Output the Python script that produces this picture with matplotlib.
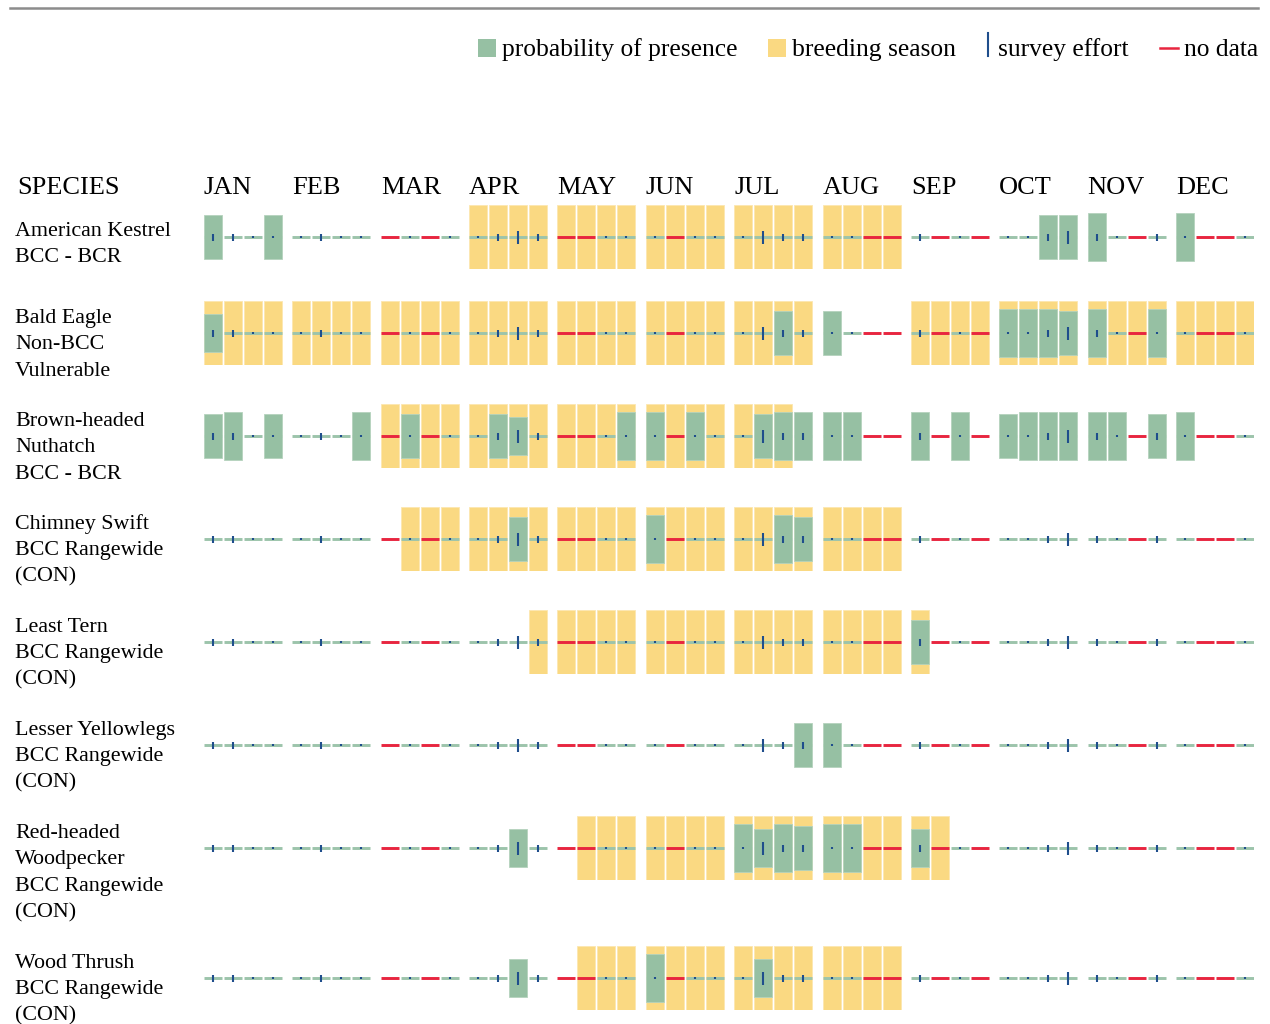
import matplotlib
matplotlib.use("Agg")
import matplotlib.pyplot as plt

# ---- data -----------------------------------------------------------------
months = ["JAN", "FEB", "MAR", "APR", "MAY", "JUN",
          "JUL", "AUG", "SEP", "OCT", "NOV", "DEC"]

species_labels = [
    ["American Kestrel", "BCC - BCR"],
    ["Bald Eagle", "Non-BCC", "Vulnerable"],
    ["Brown-headed", "Nuthatch", "BCC - BCR"],
    ["Chimney Swift", "BCC Rangewide", "(CON)"],
    ["Least Tern", "BCC Rangewide", "(CON)"],
    ["Lesser Yellowlegs", "BCC Rangewide", "(CON)"],
    ["Red-headed", "Woodpecker", "BCC Rangewide", "(CON)"],
    ["Wood Thrush", "BCC Rangewide", "(CON)"],
]

# probability of presence, 0-10, four weeks per month
presence_kestrel = [9, 0, 0, 9, 0, 0, 0, 0, 0, 0, 0, 0, 0, 0, 0, 0, 0, 0, 0, 0, 0, 0, 0, 0,
                    0, 0, 0, 0, 0, 0, 0, 0, 0, 0, 0, 0, 0, 0, 9, 9, 10, 0, 0, 0, 10, 0, 0, 0]
presence_eagle = [8, 0, 0, 0, 0, 0, 0, 0, 0, 0, 0, 0, 0, 0, 0, 0, 0, 0, 0, 0, 0, 0, 0, 0,
                  0, 0, 9, 0, 9, 0, 0, 0, 0, 0, 0, 0, 10, 10, 10, 9, 10, 0, 0, 10, 0, 0, 0, 0]
presence_nuthatch = [9, 10, 0, 9, 0, 0, 0, 10, 0, 9, 0, 0, 0, 9, 8, 0, 0, 0, 0, 10, 10, 0, 10, 0,
                     0, 9, 10, 10, 10, 10, 0, 0, 10, 0, 10, 0, 9, 10, 10, 10, 10, 10, 0, 9, 10, 0, 0, 0]
presence_swift = [0, 0, 0, 0, 0, 0, 0, 0, 0, 0, 0, 0, 0, 0, 9, 0, 0, 0, 0, 0, 10, 0, 0, 0,
                  0, 0, 10, 9, 0, 0, 0, 0, 0, 0, 0, 0, 0, 0, 0, 0, 0, 0, 0, 0, 0, 0, 0, 0]
presence_tern = [0, 0, 0, 0, 0, 0, 0, 0, 0, 0, 0, 0, 0, 0, 0, 0, 0, 0, 0, 0, 0, 0, 0, 0,
                 0, 0, 0, 0, 0, 0, 0, 0, 9, 0, 0, 0, 0, 0, 0, 0, 0, 0, 0, 0, 0, 0, 0, 0]
presence_yellowlegs = [0, 0, 0, 0, 0, 0, 0, 0, 0, 0, 0, 0, 0, 0, 0, 0, 0, 0, 0, 0, 0, 0, 0, 0,
                       0, 0, 0, 9, 9, 0, 0, 0, 0, 0, 0, 0, 0, 0, 0, 0, 0, 0, 0, 0, 0, 0, 0, 0]
presence_woodpecker = [0, 0, 0, 0, 0, 0, 0, 0, 0, 0, 0, 0, 0, 0, 8, 0, 0, 0, 0, 0, 0, 0, 0, 0,
                       10, 8, 10, 9, 10, 10, 0, 0, 8, 0, 0, 0, 0, 0, 0, 0, 0, 0, 0, 0, 0, 0, 0, 0]
presence_thrush = [0, 0, 0, 0, 0, 0, 0, 0, 0, 0, 0, 0, 0, 0, 8, 0, 0, 0, 0, 0, 10, 0, 0, 0,
                   0, 8, 0, 0, 0, 0, 0, 0, 0, 0, 0, 0, 0, 0, 0, 0, 0, 0, 0, 0, 0, 0, 0, 0]

# breeding season as (first week, last week) ranges
breeding_kestrel = [(12, 31)]
breeding_eagle = [(0, 27), (32, 47)]
breeding_nuthatch = [(8, 26)]
breeding_swift = [(9, 31)]
breeding_tern = [(15, 32)]
breeding_yellowlegs = []
breeding_woodpecker = [(17, 33)]
breeding_thrush = [(17, 31)]

# survey effort: 0 = no data, 1 = low, 2 = medium, 3 = high
effort = [2, 2, 1, 1, 1, 2, 1, 1, 0, 1, 0, 1, 1, 2, 3, 2, 0, 0, 1, 1, 1, 0, 1, 1,
          1, 3, 2, 2, 1, 1, 0, 0, 2, 0, 1, 0, 1, 1, 2, 3, 2, 1, 0, 2, 1, 0, 0, 1]
effort_eagle = [2, 2, 1, 1, 1, 2, 1, 1, 0, 1, 0, 1, 1, 2, 3, 2, 0, 0, 1, 1, 1, 0, 1, 1,
                1, 3, 2, 2, 1, 1, 0, 0, 2, 0, 1, 0, 1, 1, 2, 3, 2, 1, 0, 1, 1, 0, 0, 1]

presence = [presence_kestrel, presence_eagle, presence_nuthatch, presence_swift,
            presence_tern, presence_yellowlegs, presence_woodpecker, presence_thrush]
breeding = [breeding_kestrel, breeding_eagle, breeding_nuthatch, breeding_swift,
            breeding_tern, breeding_yellowlegs, breeding_woodpecker, breeding_thrush]
efforts = [effort, effort_eagle, effort, effort, effort, effort, effort, effort]

# ---- layout / style -------------------------------------------------------
W, H = 1270, 1024
GRID_X0, GRID_W = 204, 1050
MONTH_STEP = 4.418          # in week units (one week = 20 px)
CELL = 0.9
XMAX = GRID_W / 20.0
ROW_Y = [237, 333, 436, 539, 642, 745, 848, 978]
BOX_H = 64
GREEN_MAX = 48
TICK_HALF = {1: 1.2, 2: 3.5, 3: 6.5}

YELLOW = "#fad982"
GREEN = "#96c0a3"
LINE_GREEN = "#9cc4ab"
RED = "#e8253f"
BLUE = "#1f4e8c"
FONT = "Liberation Serif"

fig = plt.figure(figsize=(W / 100, H / 100), dpi=100)
over = fig.add_axes([0, 0, 1, 1])
over.set_xlim(0, W)
over.set_ylim(H, 0)
over.axis("off")

# top rule
over.plot([10, 1258], [8, 8], color="#8c8c8c", lw=1.8)

# legend
over.bar(487, 18, bottom=39, width=18, color=GREEN)
over.text(502, 56, "probability of presence", fontsize=18.4, family=FONT)
over.bar(777, 18, bottom=39, width=18, color=YELLOW)
over.text(792, 56, "breeding season", fontsize=18.4, family=FONT)
over.plot([988, 988], [33, 56], color=BLUE, lw=1.5)
over.text(998, 56, "survey effort", fontsize=18.4, family=FONT)
over.plot([1160, 1178], [48, 48], color=RED, lw=1.8)
over.text(1184, 56, "no data", fontsize=18.4, family=FONT)

# headers
over.text(17, 194, "SPECIES", fontsize=19, family=FONT)
for m, name in enumerate(months):
    over.text(GRID_X0 + m * MONTH_STEP * 20, 194, name, fontsize=19, family=FONT)

x = [m * MONTH_STEP + w for m in range(12) for w in range(4)]

for r, lines in enumerate(species_labels):
    cy = ROW_Y[r]
    y0 = cy - 1 if len(lines) == 2 else cy - 10
    for k, line in enumerate(lines):
        over.text(15, y0 + k * 26.4, line, fontsize=15.8, family=FONT)

    ax = fig.add_axes([GRID_X0 / W, 1 - (cy + BOX_H / 2) / H, GRID_W / W, BOX_H / H])
    ax.set_xlim(0, XMAX)
    ax.set_ylim(-BOX_H / 2, BOX_H / 2)
    ax.axis("off")

    # breeding season background
    xb = [x[i] for a, b in breeding[r] for i in range(a, b + 1)]
    ax.bar(xb, BOX_H, bottom=-BOX_H / 2, width=CELL, align="edge",
           color=YELLOW, edgecolor="#fce7b0", lw=0.6, zorder=1)

    # data / no-data line
    eff = efforts[r]
    ax.hlines([0] * 48, x, [v + CELL for v in x],
              colors=[RED if e == 0 else LINE_GREEN for e in eff], lw=2.1, zorder=2)

    # probability of presence
    idx = [i for i, p in enumerate(presence[r]) if p > 0]
    hg = [presence[r][i] / 10 * GREEN_MAX for i in idx]
    ax.bar([x[i] for i in idx], hg, bottom=[-h / 2 for h in hg], width=CELL,
           align="edge", color=GREEN, edgecolor="#b5d3bd", lw=0.6, zorder=3)

    # survey effort ticks
    ie = [i for i, e in enumerate(eff) if e > 0]
    ax.vlines([x[i] + CELL / 2 for i in ie],
              [-TICK_HALF[eff[i]] for i in ie], [TICK_HALF[eff[i]] for i in ie],
              color=BLUE, lw=1.5, zorder=4)

fig.savefig("out.png", dpi=100)
